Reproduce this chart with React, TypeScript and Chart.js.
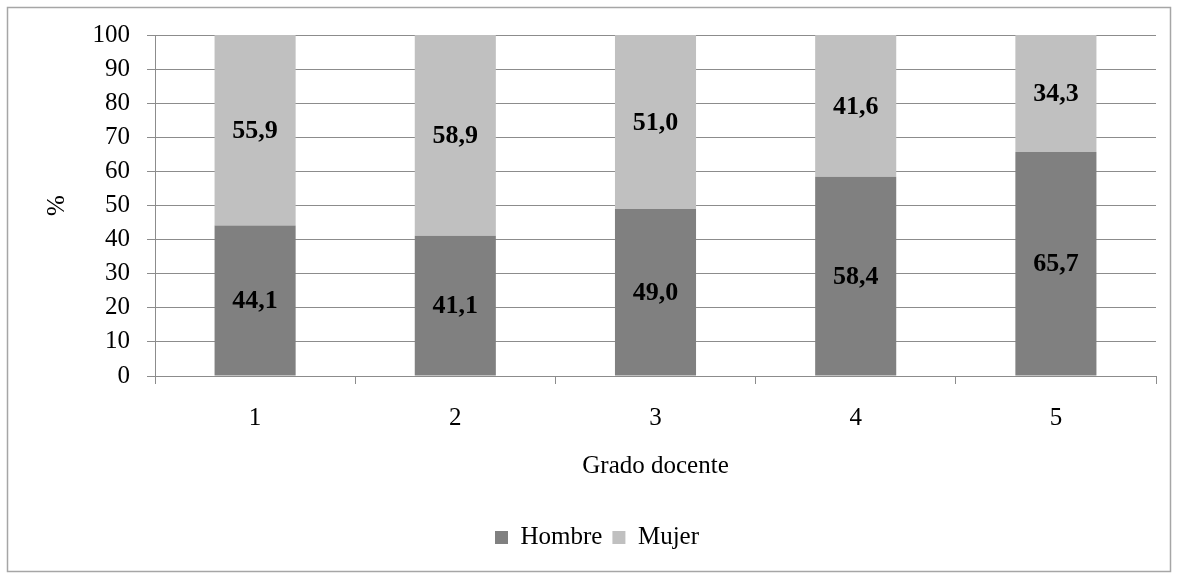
import React, { useEffect, useRef } from "react";
import { Chart, registerables } from "chart.js";

Chart.register(...registerables);

const categories = ["1", "2", "3", "4", "5"];
const hombre = [44.1, 41.1, 49.0, 58.4, 65.7];
const mujer = [55.9, 58.9, 51.0, 41.6, 34.3];
const yTicks = [0, 10, 20, 30, 40, 50, 60, 70, 80, 90, 100];

const FONT = "'Liberation Serif', 'Times New Roman', serif";
const GRID = "#8c8c8c";

const frame = {
  id: "frame",
  beforeDraw(chart: any) {
    const { ctx, width, height } = chart;
    ctx.save();
    ctx.fillStyle = "#ffffff";
    ctx.fillRect(0, 0, width, height);
    ctx.strokeStyle = "#a6a6a6";
    ctx.lineWidth = 1.5;
    ctx.strokeRect(7.5, 7.5, width - 15, height - 11);
    ctx.restore();
  },
};

const valueLabels = {
  id: "valueLabels",
  afterDatasetsDraw(chart: any) {
    const { ctx } = chart;
    ctx.save();
    ctx.font = `bold 26px ${FONT}`;
    ctx.fillStyle = "#000";
    ctx.textAlign = "center";
    ctx.textBaseline = "middle";
    chart.data.datasets.forEach((ds: any, di: number) => {
      const meta = chart.getDatasetMeta(di);
      meta.data.forEach((bar: any, i: number) => {
        const v = ds.data[i];
        const yc = (bar.y + bar.base) / 2;
        ctx.fillText(v.toFixed(1).replace(".", ","), bar.x, yc + 1);
      });
    });
    ctx.restore();
  },
};

export default function App() {
  const ref = useRef<HTMLCanvasElement>(null);
  useEffect(() => {
    if (!ref.current) return;
    const chart = new Chart(ref.current, {
      type: "bar",
      data: {
        labels: categories,
        datasets: [
          {
            label: "Hombre",
            data: hombre,
            backgroundColor: "#808080",
            borderWidth: 0,
            barPercentage: 0.405,
            categoryPercentage: 1,
          },
          {
            label: "Mujer",
            data: mujer,
            backgroundColor: "#c0c0c0",
            borderWidth: 0,
            barPercentage: 0.405,
            categoryPercentage: 1,
          },
        ],
      },
      options: {
        responsive: false,
        animation: false,
        events: [],
        layout: { padding: { left: 38, right: 22, top: 35, bottom: 15 } },
        plugins: {
          tooltip: { enabled: false },
          legend: {
            position: "bottom",
            labels: {
              font: { family: FONT, size: 25 },
              color: "#000",
              boxWidth: 13,
              boxHeight: 13,
              padding: 10,
            },
          },
        },
        scales: {
          x: {
            stacked: true,
            offset: true,
            grid: {
              offset: true,
              drawOnChartArea: false,
              drawTicks: true,
              tickLength: 8,
              color: GRID,
            },
            border: { display: true, color: GRID, width: 1 },
            ticks: {
              font: { family: FONT, size: 25 },
              color: "#000",
              padding: 19,
              maxRotation: 0,
            },
            title: {
              display: true,
              text: "Grado docente",
              font: { family: FONT, size: 25 },
              color: "#000",
              padding: { top: 4, bottom: 34 },
            },
            afterFit: (scale: any) => {
              scale.height = 139;
            },
          },
          y: {
            stacked: true,
            min: 0,
            max: 100,
            afterBuildTicks: (scale: any) => {
              scale.ticks = yTicks.map((v) => ({ value: v }));
            },
            grid: {
              drawTicks: true,
              tickLength: 8,
              color: GRID,
            },
            border: { display: true, color: GRID, width: 1 },
            ticks: {
              font: { family: FONT, size: 25 },
              color: "#000",
              padding: 17,
            },
            title: {
              display: true,
              text: "%",
              font: { family: FONT, size: 25 },
              color: "#000",
              padding: { top: 4, bottom: 4 },
            },
            afterFit: (scale: any) => {
              scale.width = 117;
            },
          },
        },
      },
      plugins: [frame, valueLabels],
    });
    return () => chart.destroy();
  }, []);
  return (
    <div style={{ position: "fixed", left: 0, top: 0, width: 1178, height: 575 }}>
      <canvas ref={ref} width={1178} height={575} />
    </div>
  );
}
